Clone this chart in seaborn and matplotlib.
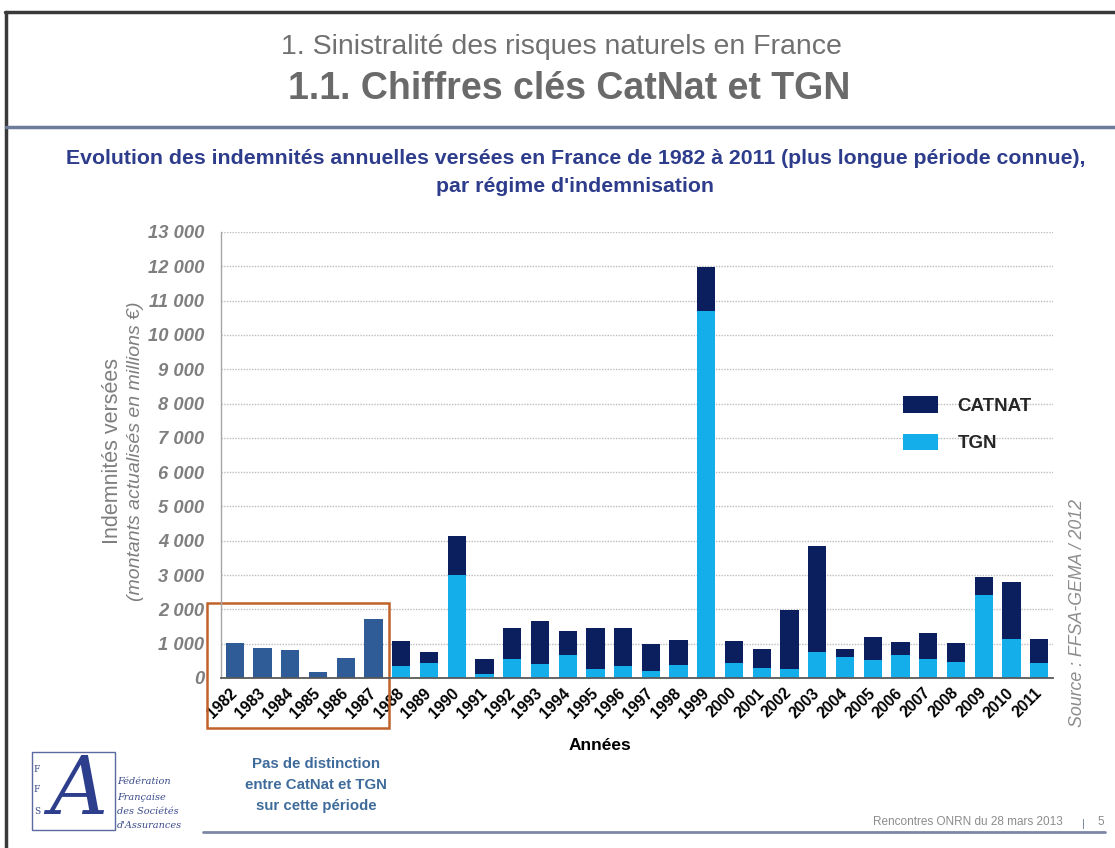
import matplotlib
matplotlib.use("Agg")
import numpy as np
import pandas as pd
import matplotlib.pyplot as plt
import seaborn as sns
from matplotlib.patches import Patch, Rectangle
from matplotlib.lines import Line2D
from matplotlib.ticker import FuncFormatter, MultipleLocator
from matplotlib import font_manager

# ---------------- data ----------------
years = ["1982", "1983", "1984", "1985", "1986", "1987", "1988", "1989", "1990",
         "1991", "1992", "1993", "1994", "1995", "1996", "1997", "1998", "1999",
         "2000", "2001", "2002", "2003", "2004", "2005", "2006", "2007", "2008",
         "2009", "2010", "2011"]
# total indemnities (CatNat + TGN), millions EUR
totals = [1030, 880, 810, 165, 580, 1720, 1080, 760, 4150, 540, 1470, 1670,
          1360, 1470, 1450, 980, 1100, 11970, 1070, 850, 1980, 3850, 840, 1200,
          1040, 1320, 1020, 2940, 2810, 1150]
# TGN part (no distinction before 1988)
tgn = [0, 0, 0, 0, 0, 0, 360, 450, 3000, 120, 560, 420, 660, 270, 340, 200,
       380, 10700, 450, 290, 250, 750, 620, 520, 660, 560, 470, 2430, 1150, 440]
periods = ["Indistinct"] * 6 + ["CATNAT"] * 24
legend_labels = ["CATNAT", "TGN"]

# ---------------- style ----------------
sns.set_theme(style="white")
available = {f.name for f in font_manager.fontManager.ttflist}
narrow = "Liberation Sans Narrow" if "Liberation Sans Narrow" in available else "Liberation Sans"
plt.rcParams["font.family"] = ["Liberation Sans", "DejaVu Sans"]

NAVY = "#0B1F5E"
LIGHT = "#14AEEA"
STEEL = "#2F5B96"
GREY = "#7F7F7F"
SUBBLUE = "#2E3C8C"

W, H = 1115, 848
fig = plt.figure(figsize=(W / 100, H / 100), dpi=100)
fig.patch.set_facecolor("white")


def fx(x):
    return x / W


def fy(y):
    return 1 - y / H


ax = fig.add_axes([fx(221), fy(678), fx(1053) - fx(221), fy(232) - fy(678)])

df = pd.DataFrame({"Année": years, "total": totals, "TGN": tgn, "periode": periods})

sns.barplot(data=df, x="Année", y="total", hue="periode", order=years,
            palette={"Indistinct": STEEL, "CATNAT": NAVY}, dodge=False,
            width=0.66, legend=False, ax=ax, saturation=1, linewidth=0)
sns.barplot(data=df, x="Année", y="TGN", order=years, color=LIGHT,
            width=0.66, ax=ax, saturation=1, linewidth=0)

ax.set_xlim(-0.5, len(years) - 0.5)
ax.set_ylim(0, 13000)
ax.yaxis.set_major_locator(MultipleLocator(1000))
ax.yaxis.set_major_formatter(FuncFormatter(lambda v, p: f"{int(v):,}".replace(",", " ")))
ax.yaxis.grid(True, linestyle=(0, (1, 1)), color="#bdbdbd", linewidth=1)
ax.set_axisbelow(True)
for s in ["top", "right"]:
    ax.spines[s].set_visible(False)
ax.spines["left"].set_color("#a6a6a6")
ax.spines["left"].set_linewidth(1)
ax.spines["bottom"].set_color("#595959")
ax.spines["bottom"].set_linewidth(1.3)
ax.set_xlabel("")
ax.set_ylabel("")
ax.tick_params(axis="y", length=3, color="#a6a6a6", pad=9,
               labelsize=13.2, labelcolor=GREY)
for t in ax.get_yticklabels():
    t.set_fontstyle("italic")
    t.set_fontweight("bold")
ax.tick_params(axis="x", length=0, pad=9)
ax.set_xticks(range(len(years)))
ax.set_xticklabels(years, rotation=45, ha="right", rotation_mode="anchor",
                   fontsize=11.3, fontweight="bold", color="black")
for t in ax.get_xticklabels():
    t.set_va("center")

# legend
handles = [Patch(facecolor=NAVY, edgecolor="none"), Patch(facecolor=LIGHT, edgecolor="none")]
leg = ax.legend(handles, legend_labels, loc="upper left",
                bbox_to_anchor=(fx(894), fy(387)), bbox_transform=fig.transFigure,
                frameon=False, borderpad=0, handlelength=1.85, handleheight=0.95,
                handletextpad=1.05, labelspacing=1.0,
                prop={"weight": "bold", "size": 13.5})

# orange box around non-distinct period (data coords in x)
box = Rectangle((-1.0, -1470), 6.55, 3670, fill=False, edgecolor="#C0622A",
                linewidth=1.8, clip_on=False, transform=ax.transData)
ax.add_patch(box)

# ---------------- texts ----------------
fig.text(fx(561), fy(47), "1. Sinistralité des risques naturels en France",
         ha="center", va="center", fontsize=20.5, color="#707070", family=[narrow, "DejaVu Sans"])
fig.text(fx(569), fy(89), "1.1. Chiffres clés CatNat et TGN",
         ha="center", va="center", fontsize=27, color="#6a6a6a", weight="bold",
         family=[narrow, "DejaVu Sans"])
fig.text(fx(576), fy(158),
         "Evolution des indemnités annuelles versées en France de 1982 à 2011 (plus longue période connue),",
         ha="center", va="center", fontsize=15.3, color=SUBBLUE, weight="bold",
         family=[narrow, "DejaVu Sans"])
fig.text(fx(575), fy(187), "par régime d'indemnisation",
         ha="center", va="center", fontsize=15.3, color=SUBBLUE, weight="bold",
         family=[narrow, "DejaVu Sans"])

fig.text(fx(113), fy(451), "Indemnités versées", rotation=90, ha="center", va="center",
         fontsize=15.5, color=GREY)
fig.text(fx(135), fy(451), "(montants actualisés en millions €)", rotation=90,
         ha="center", va="center", fontsize=14, color=GREY, style="italic")

fig.text(fx(600), fy(746), "Années", ha="center", va="center", fontsize=12.5,
         weight="bold", color="black")

fig.text(fx(316), fy(785), "Pas de distinction\nentre CatNat et TGN\nsur cette période",
         ha="center", va="center", fontsize=10.8, weight="bold", color="#3F6B9B",
         linespacing=1.65)

fig.text(fx(1078), fy(613), "Source : FFSA-GEMA / 2012", rotation=90, ha="center",
         va="center", fontsize=12.8, color="#8C8C8C", style="italic")

fig.text(fx(1063), fy(822), "Rencontres ONRN du 28 mars 2013", ha="right", va="center",
         fontsize=8.5, color="#8C8C8C", family=[narrow, "DejaVu Sans"])
fig.text(fx(1083), fy(824), "|", ha="center", va="center", fontsize=8, color="#6b7a99")
fig.text(fx(1101), fy(822), "5", ha="center", va="center", fontsize=8.5, color="#8C8C8C")

# ---------------- slide decorations ----------------
fig.add_artist(Line2D([fx(5), fx(1115)], [fy(12), fy(12)], color="#3a3a3a", lw=2.5))
fig.add_artist(Line2D([fx(6), fx(6)], [fy(12), fy(848)], color="#3a3a3a", lw=2.5))
fig.add_artist(Line2D([fx(6), fx(1115)], [fy(127), fy(127)], color="#6E7B9A", lw=2.5))
fig.add_artist(Line2D([fx(203), fx(1105)], [fy(832), fy(832)], color="#7D88A6", lw=2))

# FFSA logo (approximation)
fig.add_artist(Rectangle((fx(32), fy(830)), fx(115) - fx(32), fy(752) - fy(830),
                         transform=fig.transFigure, fill=False, edgecolor="#5A6AA0", lw=1))
for yy, ch in [(770, "F"), (790, "F"), (812, "S")]:
    fig.text(fx(37), fy(yy), ch, fontsize=6.5, family="DejaVu Serif", color="#3A4A8A",
             ha="center", va="center")
fig.text(fx(78), fy(792), "A", fontsize=58, family="DejaVu Serif", style="italic",
         color="#2C3E8C", ha="center", va="center")
for yy, line in [(782, "Fédération"), (798, "Française"), (812, "des Sociétés"),
                 (826, "d'Assurances")]:
    fig.text(fx(117), fy(yy), line, fontsize=7, family="DejaVu Serif", style="italic",
             color="#3A4A8A", ha="left", va="center")

fig.savefig("out.png", dpi=100, facecolor="white")
